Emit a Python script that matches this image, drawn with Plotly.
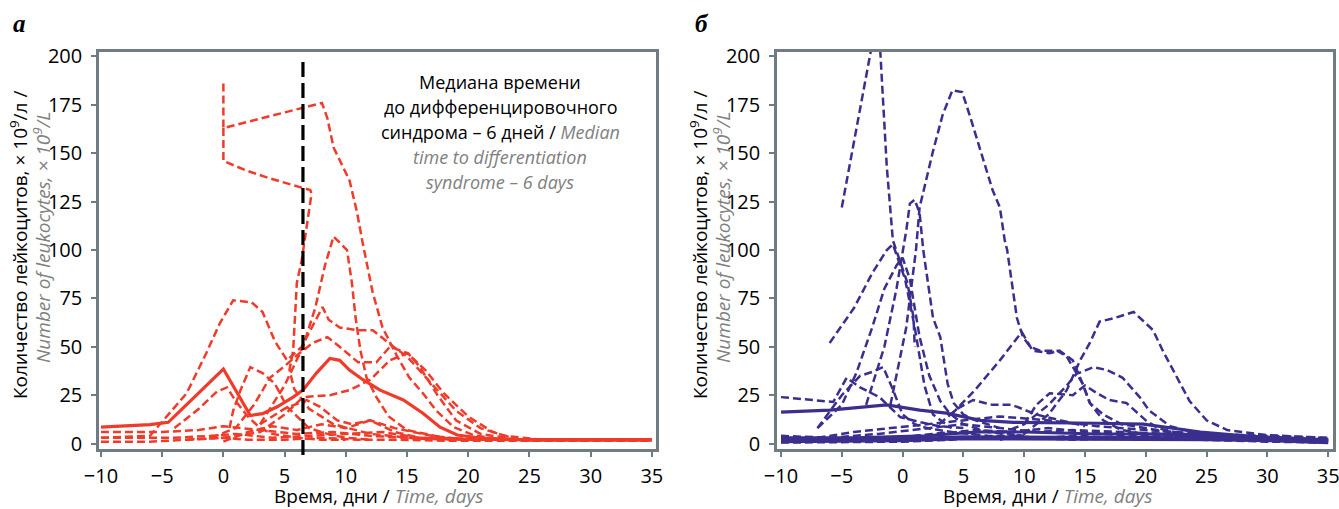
import plotly.graph_objects as go

# ---------------- data: panel а (red) ----------------
a_median_x = [-10, -6, -4.5, 0, 2.2, 3.2, 4.4, 5.7, 6.5, 7.6, 8.7, 9.5, 10.3, 11.4, 12.8, 14.7, 16.3, 17.7, 19.1, 21, 25, 35]
a_median_y = [8.5, 9.8, 11, 38.5, 14.5, 15.5, 19, 24, 27.6, 36.4, 44, 43, 38, 33, 27.6, 22.5, 15.7, 8.5, 4.4, 2.8, 1.8, 1.8]

a1_x = [0, 0, 8.05, 8.5, 9, 9.8, 10.3, 10.9, 11.4, 12.2, 13, 14.2, 15.2, 16.3, 17.4, 18.8, 20.4, 22.8, 35]
a1_y = [186, 163, 176, 168, 153, 143, 136, 120, 103, 78, 60, 45, 34, 26, 17, 8.5, 4.4, 1.8, 1.8]

a2_x = [0, 0, 1.9, 3.8, 6.25, 7.1, 7.2, 6.9, 6.7, 6.4, 6.0, 5.85, 5.7, 5.4, 5.8, 7, 9, 12, 16, 20, 35]
a2_y = [163, 146, 141, 137, 132.5, 131, 129, 117, 106.6, 94.7, 83, 65, 48, 38, 28, 18, 10, 5, 2.5, 2, 2]

a3_x = [3, 5, 6.5, 7.5, 8.3, 9.0, 10.1, 10.5, 10.8, 11.2, 11.7, 12.5, 13.5, 15, 18, 22, 35]
a3_y = [10, 30, 50, 70, 92, 107, 100, 83, 65, 48, 34, 24, 14, 7, 3, 2, 2]

a4_x = [-1, 1, 2.5, 3.8, 5, 6.2, 7.3, 8.5, 9.5, 11, 12.5, 13.6, 15.1, 16, 17.5, 19, 21, 24, 35]
a4_y = [3, 8, 20, 34, 40, 46.6, 52, 55, 50, 42, 42, 50, 46.6, 40, 25, 12, 5, 2, 2]

a5_x = [-10, -6, -4.4, -3, -1.4, -0.3, 0.8, 2.3, 3.2, 4.2, 5.2, 6.4, 8.1, 8.6, 9.5, 10.9, 12.2, 13.9, 15, 16, 17.5, 19, 21, 23, 26, 35]
a5_y = [3, 4, 15.7, 26, 46.7, 62, 74, 73, 68, 53, 43, 50, 70.5, 64, 60, 58.6, 58.6, 50, 45, 38, 28, 17, 8, 4, 2, 2]

a6_x = [0.5, 0.8, 1.4, 2.2, 3.2, 4.2, 5.2, 6, 7, 8.5, 10, 12]
a6_y = [8, 17, 27.6, 39.5, 36.4, 31, 19, 14, 8, 5, 3, 2]

a7_x = [-4, -2, -0.5, 0.3, 1, 2, 3, 4, 6, 8, 10]
a7_y = [8, 18, 27, 29, 22, 14, 8, 5, 3, 2, 2]

a8_x = [-3, 0, 3, 5, 6.5, 8.7, 10.3, 12, 13.6, 15, 16.5, 18, 20, 22, 24, 35]
a8_y = [2, 3, 6, 15, 24, 25, 27.6, 33, 43, 46.7, 38, 26, 14, 6, 2, 2]

a9_x = [3, 5, 6.8, 7.9, 9.3, 10.5, 12, 14, 17, 20, 35]
a9_y = [10, 18, 22.5, 19, 12, 10, 12, 8, 4, 2, 2]

a10_x = [-10, -5, -2, 0, 3, 6, 9, 12, 15, 20, 35]
a10_y = [6, 6, 7, 9, 7, 5, 6, 4, 3, 2, 2]

a11_x = [-10, -6, -3, 0, 2, 5, 8, 11, 14, 18, 35]
a11_y = [1, 1, 2, 3, 2, 2, 3, 2, 2, 1.5, 1.5]

a12_x = [-10, -4, -1, 1, 4, 7, 10, 13, 16, 20, 35]
a12_y = [3, 3, 4, 5, 3, 4, 5, 6, 3, 2, 2]

a13_x = [0, 2, 4, 6, 8, 10, 12, 14, 16, 20, 35]
a13_y = [1, 6, 9, 7, 10, 8, 12, 6, 3, 2, 2]

# ---------------- data: panel б (blue) ----------------
b_median_x = [-10, -6, -1.3, 1.4, 3.6, 6.4, 9.1, 12.9, 16, 19.8, 24.5, 30, 35]
b_median_y = [16.3, 17.3, 20, 17.3, 15.7, 12, 11, 10.5, 10.5, 10, 6, 3, 1]

b_low_x = [-10, -5, 0, 5, 10, 15, 20, 25, 30, 35]
b_low_y = [1.5, 1.5, 2, 3, 3, 3, 3, 2.5, 2, 1]

b_low2_x = [-10, -4, 2, 6, 10, 16, 22, 28, 35]
b_low2_y = [3, 3, 4, 6, 6, 5, 5, 4, 2]

b1_x = [-5, -2.4, -1.9, -1.3, -0.8, 0.4, 0.9, 1.0]
b1_y = [122, 210, 210, 143, 105, 83, 65, 50]

b2_x = [-1, 0.3, 1.1, 1.4, 2.5, 3.3, 4.1, 4.9, 5.5, 6.4, 7.4, 8, 8.4, 8.6, 9.4, 9.9, 10.5, 11.3, 12.7, 13.5, 14.8, 15.4, 16.5, 18, 20, 22, 25, 30, 35]
b2_y = [20, 60, 100, 122, 151, 170, 182.5, 181.6, 170, 151, 131, 122, 105, 100, 65, 55, 50, 48, 48, 45, 31, 21, 15, 10, 8, 6, 4, 3, 2]

b3_x = [8, 10, 12, 13.5, 14.6, 15.4, 16.2, 17.5, 19, 20.6, 21.4, 22.6, 23.6, 25, 26.7, 30, 32.7, 35]
b3_y = [2, 5, 15, 27.6, 43, 52, 63, 65, 68, 58.6, 48, 34, 22, 12, 7, 4.4, 3.4, 2.8]

b4_x = [4, 6, 8, 9.8, 10.7, 12.1, 12.9, 14, 14.8, 15.4, 16.5, 18, 20, 23, 27, 35]
b4_y = [15, 28, 43, 57.6, 48, 46.7, 48, 43, 31, 21, 12, 7, 5, 4, 3, 2]

b5_x = [8, 10, 12, 13.5, 14.3, 15.7, 16.8, 18.1, 19.5, 20.3, 22, 25, 35]
b5_y = [5, 10, 20, 30, 36, 39.5, 38, 34, 24, 17, 9, 4, 2]

b6_x = [10, 11, 12.1, 14, 15, 16, 17, 18.4, 20, 21, 23, 27, 35]
b6_y = [10, 20, 26, 25, 30, 26, 22.5, 21, 12, 8, 5, 3, 2]

b7_x = [-10, -8, -5.7, -4.6, -3.5, -1.9, -0.2, 1.5, 3, 5]
b7_y = [24, 23, 21.5, 34, 29, 24, 13.7, 11, 9, 8]

b8_x = [-6, -4, -2.5, -1.3, -0.8, 0.2, 1, 1.8, 2.5, 4]
b8_y = [52, 70, 88, 100, 103, 85, 60, 30, 15, 8]

b9_x = [-7, -5, -3.8, -2.5, -1.5, -0.5, 0, 0.6, 1.4, 2.2, 3.1, 3.7, 4.2, 5, 7, 10]
b9_y = [8, 20, 36.5, 60, 80, 92, 96, 85, 55, 35, 22, 17, 14, 10, 6, 4]

b10_x = [-3, -1.5, -0.5, 0.3, 0.6, 1.0, 1.4, 1.7, 2.5, 3.1, 3.7, 4.2, 5, 6, 8]
b10_y = [20, 50, 80, 110, 124, 126, 119, 100, 65, 55, 31, 21, 15, 12, 8]

b11_x = [-7, -5, -3.5, -2.5, -1.6, -0.8, 0, 1, 2, 4, 6]
b11_y = [8, 25, 35, 37, 39.5, 28, 15, 10, 8, 6, 5]

b12_x = [3, 4.5, 5.8, 7.4, 9, 11, 13, 15]
b12_y = [10, 18, 22.5, 20, 20, 15, 12, 9]

b13_x = [-10, -5, 0, 3, 6, 9, 12, 15, 20, 25, 30, 35]
b13_y = [2, 2, 3, 5, 7, 6, 8, 6, 5, 4, 3, 1]

b14_x = [-10, -4, 0, 4, 8, 12, 16, 20, 24, 28, 35]
b14_y = [0.5, 1, 1, 2, 4, 3, 5, 4, 3, 2, 0.5]

b15_x = [-10, -6, -2, 2, 5, 8, 11, 14, 18, 22, 27, 35]
b15_y = [4, 3, 5, 8, 10, 8, 6, 7, 6, 5, 3, 2]

b16_x = [-10, -3, 1, 4, 7, 10, 14, 19, 24, 30, 35]
b16_y = [1, 2, 4, 6, 4, 3, 2, 3, 2, 1, 0.5]

b17_x = [-7, -4, -1, 2, 5, 8, 12, 16, 20, 25, 35]
b17_y = [3, 6, 8, 10, 12, 14, 12, 9, 7, 5, 3]

median_time = 6.5
x_ticks = [-10, -5, 0, 5, 10, 15, 20, 25, 30, 35]
y_ticks = [0, 25, 50, 75, 100, 125, 150, 175, 200]

RED = "#ef3b2a"
BLUE = "#3a2f8e"
GRAY_AX = "#6f7c84"
GRAY_TXT = "#808080"
FONT = "Open Sans"

W, H = 1339, 509

fig = go.Figure()

def add(xs, ys, color, xa, ya, solid=False, width=None):
    fig.add_trace(go.Scatter(
        x=xs, y=ys, mode="lines", xaxis=xa, yaxis=ya, showlegend=False,
        hoverinfo="skip",
        line=dict(color=color, width=width or (3.2 if solid else 2.5),
                  dash="solid" if solid else "8px,4px")))

for xs, ys in [(a1_x, a1_y), (a2_x, a2_y), (a3_x, a3_y), (a4_x, a4_y), (a5_x, a5_y),
               (a6_x, a6_y), (a7_x, a7_y), (a8_x, a8_y), (a9_x, a9_y), (a10_x, a10_y),
               (a11_x, a11_y), (a12_x, a12_y), (a13_x, a13_y)]:
    add(xs, ys, RED, "x", "y")
add(a_median_x, a_median_y, RED, "x", "y", solid=True)

for xs, ys in [(b1_x, b1_y), (b2_x, b2_y), (b3_x, b3_y), (b4_x, b4_y), (b5_x, b5_y),
               (b6_x, b6_y), (b7_x, b7_y), (b8_x, b8_y), (b9_x, b9_y), (b10_x, b10_y),
               (b11_x, b11_y), (b12_x, b12_y), (b13_x, b13_y), (b14_x, b14_y),
               (b15_x, b15_y), (b16_x, b16_y), (b17_x, b17_y)]:
    add(xs, ys, BLUE, "x2", "y2")
add(b_median_x, b_median_y, BLUE, "x2", "y2", solid=True)
add(b_low_x, b_low_y, BLUE, "x2", "y2", solid=True, width=5)
add(b_low2_x, b_low2_y, BLUE, "x2", "y2", solid=True, width=3)

def px_x(p):
    return p / W

def px_y(p):
    return (H - p) / H

ydom = [px_y(449), px_y(52)]
axis_common = dict(showline=True, linecolor=GRAY_AX, linewidth=2.5, mirror=True,
                   ticks="outside", ticklen=5, tickwidth=2, tickcolor=GRAY_AX,
                   showgrid=False, zeroline=False, automargin=False,
                   ticklabeloverflow="allow",
                   tickfont=dict(family=FONT, size=20, color="black"))

fig.update_layout(
    width=W, height=H, margin=dict(l=0, r=0, t=0, b=0, autoexpand=False),
    paper_bgcolor="white", plot_bgcolor="white",
    xaxis=dict(domain=[px_x(99), px_x(656)], range=[-10.16, 35.34], tickvals=x_ticks,
               anchor="y", ticklabelstandoff=2, **axis_common),
    yaxis=dict(domain=ydom, range=[-2.8, 202.3], tickvals=y_ticks, anchor="x",
               ticklabelstandoff=5, **axis_common),
    xaxis2=dict(domain=[px_x(777), px_x(1333)], range=[-10.33, 35.4], tickvals=x_ticks,
                anchor="y2", ticklabelstandoff=2, **axis_common),
    yaxis2=dict(domain=ydom, range=[-2.8, 202.3], tickvals=y_ticks, anchor="x2",
                ticklabelstandoff=5, **axis_common),
)

# median vertical line
fig.add_shape(type="line", xref="x", yref="paper", x0=median_time, x1=median_time,
              y0=px_y(455), y1=px_y(57),
              line=dict(color="black", width=3.2, dash="15px,6px"))

def ann(text, x, y, size=18, angle=0, color="black", family=FONT):
    fig.add_annotation(text=text, x=px_x(x), y=px_y(y), xref="paper", yref="paper",
                       showarrow=False, xanchor="center", yanchor="middle",
                       textangle=angle, font=dict(family=family, size=size, color=color))

gi = lambda s: f"<i><span style='color:{GRAY_TXT}'>{s}</span></i>"

# panel letters
ann("<b><i>а</i></b>", 19, 24, size=25, family="Liberation Serif")
ann("<b><i>б</i></b>", 702, 24, size=25, family="Liberation Serif")

# median annotation
ann("Медиана времени", 500, 82)
ann("до дифференцировочного", 500, 107)
ann("синдрома – 6 дней / " + gi("Median"), 500, 132)
ann(gi("time to differentiation"), 500, 157)
ann(gi("syndrome – 6 days"), 500, 182)

# axis titles
for cx in (378, 1047):
    ann("Время, дни / " + gi("Time, days"), cx, 496, size=19)
for lx in (19, 699):
    ann("Количество лейкоцитов, × 10<sup>9</sup>/л /", lx, 245, angle=-90, size=19)
    ann(gi("Number of leukocytes, × 10<sup>9</sup>/L"), lx + 23, 238, angle=-90, size=19)

fig.write_html("out.html")
